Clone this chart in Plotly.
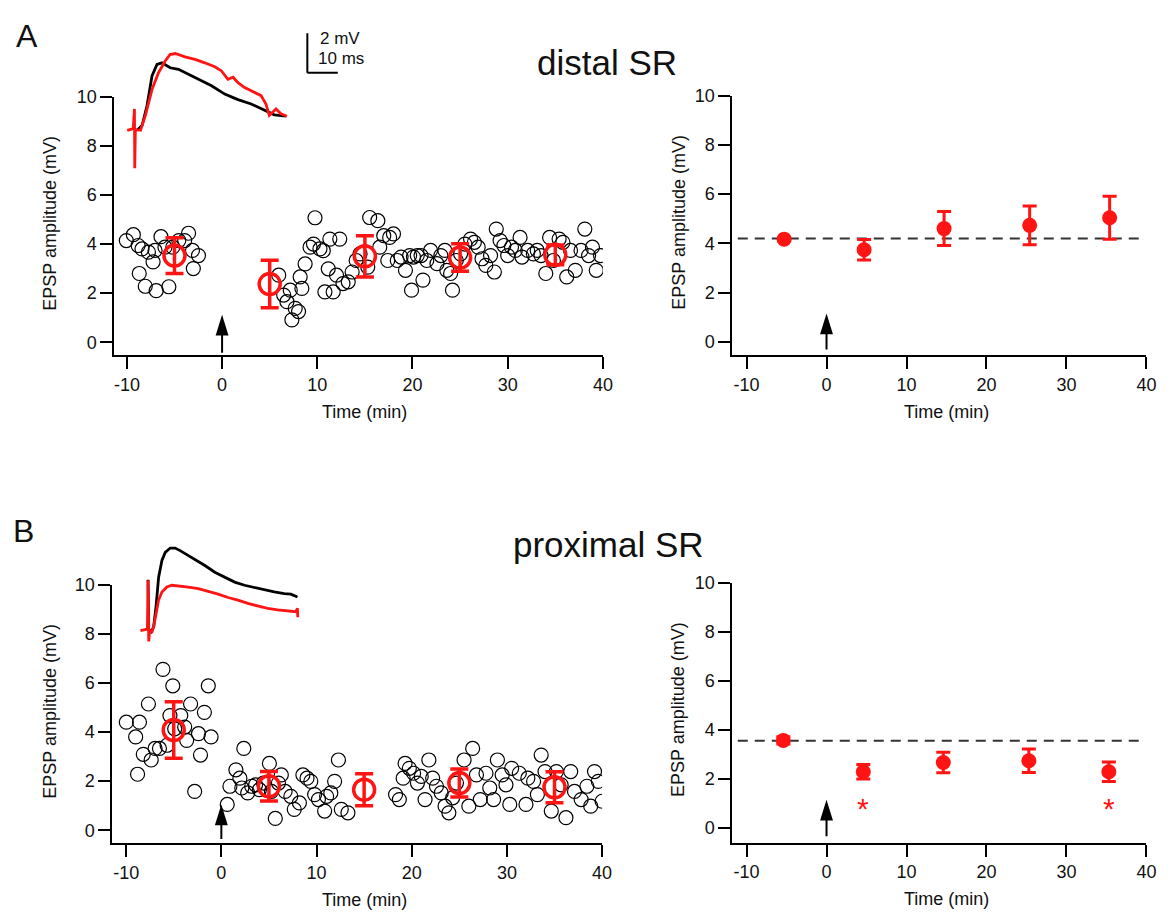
import plotly.graph_objects as go

W, H = 1171, 915
FONT = "Arial, 'Liberation Sans', sans-serif"
RED = "#ff1414"
INK = "#111111"

# ---------------- data: panel A (distal SR) ----------------
A_raw_t = [-10.06, -9.32, -8.82, -8.41, -7.74, -7.04, -7.25, -8.70, -8.07, -6.92, -5.59, -6.42, -6.00, -5.18,
           -4.55, -3.93, -3.52, -3.11, -2.48, -3.02,
           5.95, 6.47, 6.81, 7.16, 7.33, 7.68, 8.03, 8.2, 8.38, 8.72, 9.24, 9.6, 9.76, 10.28, 10.63, 10.8, 11.15,
           11.32, 11.67, 12.02, 12.36, 12.7, 13.25, 13.66, 14.08, 14.49, 15.3, 15.5, 16.36, 16.56, 16.98, 17.4,
           17.6, 18.0, 18.4, 18.8, 19.26, 19.7, 19.9, 20.1, 20.5, 20.9, 21.1, 21.5, 21.9, 22.57, 22.98, 23.4,
           23.6, 24.0, 24.2, 24.6, 25.05, 25.5, 26.1, 26.5, 26.9, 27.3, 27.7, 28.2, 28.6, 28.8, 29.2, 29.6, 30.0,
           30.4, 30.8, 31.3, 31.5, 32.1, 32.7, 33.1, 33.5, 34.0, 34.4, 34.8, 35.4, 35.8, 36.2, 36.6, 37.1, 37.7,
           38.1, 38.5, 38.9, 39.3, 39.75]
A_raw_v = [4.14, 4.38, 3.94, 3.80, 3.67, 3.74, 3.27, 2.80, 2.28, 2.10, 2.26, 4.30, 3.87, 3.87,
           4.14, 4.14, 4.44, 3.74, 3.53, 3.00,
           2.73, 1.92, 1.65, 2.12, 0.91, 1.38, 1.25, 2.66, 2.19, 3.19, 3.87, 4.0, 5.07, 3.8, 3.73, 2.05, 2.99,
           4.2, 2.05, 2.73, 4.2, 2.39, 2.46, 2.86, 3.33, 3.6, 3.06, 5.08, 4.95, 3.87, 4.34, 3.33,
           4.27, 4.41, 3.33, 3.47, 2.93, 3.53, 2.12, 3.47, 3.53, 3.53, 2.53, 3.33, 3.74, 3.2, 3.53, 3.74,
           2.93, 2.8, 2.12, 3.33, 3.6, 4.0, 4.2, 4.07, 3.87, 3.4, 3.13, 3.53, 2.86, 4.61, 4.14, 3.94, 3.53,
           3.87, 3.74, 4.27, 3.47, 3.74, 3.6, 3.74, 3.53, 2.8, 4.27, 3.33, 4.2, 4.07, 2.66, 3.74, 2.93, 3.74,
           4.61, 3.53, 3.87, 2.93, 3.53]
A_bin_t = [-5, 5, 15, 25, 35]
A_bin_v = [3.53, 2.37, 3.50, 3.45, 3.56]
A_bin_err = [0.73, 0.97, 0.84, 0.56, 0.40]

A_sum_t = [-5.3, 4.7, 14.7, 25.4, 35.4]
A_sum_v = [4.17, 3.74, 4.60, 4.73, 5.04]
A_sum_err = [0.07, 0.42, 0.69, 0.79, 0.87]
A_baseline = 4.2

# EPSP example traces (ms, mV) for panel A
A_ctrl_ms = [12.5, 13.03, 14.12, 15.74, 17.37, 19.0, 20.63, 22.26, 23.34, 26.06, 29.32, 32.57, 36.92, 41.26,
             45.6, 49.95, 54.29, 57.55, 61.35]
A_ctrl_mv = [3.95, 4.0, 4.17, 5.17, 6.67, 7.25, 7.33, 7.17, 7.08, 7.0, 6.75, 6.5, 6.17, 5.75,
             5.47, 5.25, 4.92, 4.7, 4.63]
A_post_ms = [9.2, 11.2, 11.6, 11.7, 11.9, 13.6, 15.2, 17.4, 19.5, 21.7, 23.3, 25.0, 28.2, 31.5, 34.7, 38.0,
             40.2, 42.3, 44.0, 45.6, 47.8, 51.0, 53.2, 54.8, 55.9, 58.1, 59.7, 61.7]
A_post_mv = [3.92, 4.0, 5.0, 2.0, 3.95, 3.92, 4.67, 6.0, 6.83, 7.42, 7.75, 7.8, 7.63, 7.5, 7.33, 7.13,
             6.92, 6.5, 6.6, 6.33, 6.08, 5.83, 5.67, 5.25, 4.67, 5.0, 4.75, 4.63]

# ---------------- data: panel B (proximal SR) ----------------
B_raw_t = [-9.98, -9.0, -8.6, -8.8, -8.2, -7.66, -7.37, -6.96, -6.5, -6.13, -5.7, -5.1, -5.4, -4.9, -4.26,
           -3.85, -3.64, -3.23, -2.4, -2.19, -1.78, -1.37, -1.08, -2.8,
           0.62, 0.9, 1.53, 1.95, 2.36, 2.15, 2.77, 3.19, 3.6, 4.0, 4.43, 5.05, 5.26, 5.67, 6.0, 6.3, 6.7, 7.3,
           7.66, 8.2, 8.57, 9.0, 9.4, 9.8, 10.2, 10.85, 11.06, 11.5, 11.9, 12.3, 12.6, 13.3,
           18.3, 18.7, 19.1, 19.3, 19.75, 20.2, 20.6, 21.0, 21.4, 21.8, 22.2, 22.6, 23.1, 23.5, 23.9, 24.3,
           24.7, 25.5, 26.0, 26.4, 26.8, 27.2, 27.8, 28.2, 28.6, 29.0, 29.5, 29.9, 30.3, 30.5, 31.3, 32.0,
           32.2, 32.8, 33.2, 33.6, 34.0, 34.66, 35.2, 35.7, 36.2, 36.7, 37.1, 37.8, 38.4, 38.8, 39.2, 39.6, 40.0]
B_raw_v = [4.4, 3.8, 4.4, 2.28, 3.09, 5.14, 2.86, 3.33, 3.33, 6.55, 3.46, 5.88, 4.67, 4.13, 4.67,
           4.2, 3.66, 5.14, 3.93, 3.06, 4.8, 5.88, 3.8, 1.58,
           1.05, 1.79, 2.46, 2.12, 3.33, 1.72, 1.52, 1.79, 1.85, 1.65, 1.92, 2.72, 1.58, 0.48, 1.92, 2.25, 1.58,
           1.38, 0.85, 1.11, 2.25, 2.12, 1.99, 1.45, 1.25, 0.78, 1.38, 1.52, 1.99, 2.86, 0.85, 0.71,
           1.45, 1.25, 2.12, 2.72, 2.52, 2.32, 1.92, 2.19, 1.25, 2.86, 2.12, 1.79, 1.52, 0.98, 0.71, 1.32,
           1.92, 2.86, 0.98, 3.33, 2.25, 1.25, 2.32, 1.72, 1.25, 2.86, 2.25, 1.85, 1.05, 2.52, 2.32, 1.05,
           2.12, 1.99, 1.45, 3.06, 2.39, 0.78, 2.39, 1.85, 0.51, 2.39, 1.58, 1.25, 1.79, 0.98, 2.39, 1.99, 1.18]
B_bin_t = [-5, 5, 15, 25, 35]
B_bin_v = [4.08, 1.79, 1.65, 1.92, 1.75]
B_bin_err = [1.15, 0.60, 0.65, 0.57, 0.63]

B_sum_t = [-5.4, 4.6, 14.6, 25.3, 35.3]
B_sum_v = [3.57, 2.29, 2.67, 2.74, 2.29]
B_sum_err = [0.15, 0.30, 0.42, 0.48, 0.40]
B_baseline = 3.56
B_sig_t = [4.6, 35.3]      # significant bins (*)

B_ctrl_ms = [16.07, 16.29, 17.16, 17.92, 18.68, 19.54, 20.63, 21.72, 23.34, 24.97, 26.6, 28.77, 31.49, 34.74,
             38.0, 41.26, 44.52, 47.77, 51.03, 54.29, 57.55, 60.8, 62.97, 65.15]
B_ctrl_mv = [6.2, 3.7, 3.57, 3.83, 4.83, 6.33, 7.17, 7.58, 7.8, 7.8, 7.67, 7.47, 7.25, 6.92,
             6.58, 6.33, 6.08, 5.92, 5.8, 5.7, 5.58, 5.5, 5.47, 5.33]
B_post_ms = [13.57, 15.2, 15.85, 16.07, 16.29, 16.61, 17.37, 17.92, 18.68, 19.54, 20.63, 22.26, 23.89, 26.6,
             29.32, 32.57, 35.83, 39.09, 42.35, 45.6, 48.86, 52.12, 55.37, 58.63, 61.89, 64.6, 65.15, 65.25]
B_post_mv = [3.63, 3.67, 3.7, 6.17, 3.08, 3.63, 3.58, 3.83, 4.5, 5.17, 5.58, 5.83, 5.92, 5.88,
             5.83, 5.75, 5.62, 5.47, 5.3, 5.17, 5.0, 4.87, 4.75, 4.67, 4.62, 4.58, 4.75, 4.3]

X_TICKS = [-10, 0, 10, 20, 30, 40]
X_TICK_LABELS = ["-10", "0", "10", "20", "30", "40"]
Y_TICKS = [0, 2, 4, 6, 8, 10]
Y_TICK_LABELS = ["0", "2", "4", "6", "8", "10"]
ARROW_T = 0

# ---------------- layout geometry (pixels) ----------------
PANELS = {
    # name: (x0, x1, y_top, y_bottom, xrange, yrange)
    "AL": (115.3, 608.1, 87.7, 349.3, [-11.32, 40], [-0.54, 10]),
    "AR": (738.7, 1156.3, 86.7, 349.3, [-11.77, 40], [-0.56, 10]),
    "BL": (113.3, 607.3, 581.0, 842.7, [-11.45, 40], [-0.54, 10]),
    "BR": (738.7, 1156.3, 579.3, 841.7, [-11.77, 40], [-0.60, 10]),
}
AXIDS = {"AL": "", "AR": "2", "BL": "3", "BR": "4"}


def xdom(a, b):
    return [a / W, b / W]


def ydom(top, bot):
    return [1 - bot / H, 1 - top / H]


fig = go.Figure()
tickfont = dict(family=FONT, size=18, color=INK)

layout = dict(width=W, height=H, margin=dict(l=0, r=0, t=0, b=0), autosize=False,
              paper_bgcolor="white", plot_bgcolor="rgba(0,0,0,0)", showlegend=False,
              font=dict(family=FONT, color=INK))

for name, (x0, x1, yt, yb, xr, yr) in PANELS.items():
    i = AXIDS[name]
    layout["xaxis" + i] = dict(domain=xdom(x0, x1), range=xr, anchor="y" + i, tickvals=X_TICKS,
                               ticktext=X_TICK_LABELS,
                               showline=True, linecolor="black", linewidth=2, ticks="outside", ticklen=12,
                               tickwidth=2, tickcolor="black", showgrid=False, zeroline=False,
                               tickfont=tickfont, fixedrange=True)
    layout["yaxis" + i] = dict(domain=ydom(yt, yb), range=yr, anchor="x" + i, tickvals=Y_TICKS,
                               ticktext=Y_TICK_LABELS,
                               showline=True, linecolor="black", linewidth=2, ticks="outside", ticklen=12,
                               tickwidth=2, tickcolor="black", showgrid=False, zeroline=False,
                               tickfont=tickfont, fixedrange=True)

# inset axes for EPSP traces
layout["xaxis5"] = dict(domain=xdom(100, 407), range=[0, 100], anchor="y5", visible=False)
layout["yaxis5"] = dict(domain=ydom(20, 200), range=[0, 9], anchor="x5", visible=False)
layout["xaxis6"] = dict(domain=xdom(100, 407), range=[0, 100], anchor="y6", visible=False)
layout["yaxis6"] = dict(domain=ydom(520, 700), range=[0, 9], anchor="x6", visible=False)


def raw_scatter(t, v, i):
    fig.add_trace(go.Scatter(x=t, y=v, mode="markers", xaxis="x" + i, yaxis="y" + i,
                             marker=dict(symbol="circle-open", size=14, color="black",
                                         line=dict(width=1.2, color="black"))))


def bin_scatter(t, v, e, i):
    fig.add_trace(go.Scatter(x=t, y=v, mode="markers", xaxis="x" + i, yaxis="y" + i,
                             error_y=dict(type="data", array=e, color=RED, thickness=3.5, width=9),
                             marker=dict(symbol="circle-open", size=21, color=RED,
                                         line=dict(width=3.5, color=RED))))


def summary(t, v, e, base, i):
    fig.add_trace(go.Scatter(x=[-11.1, 39.1], y=[base, base], mode="lines", xaxis="x" + i, yaxis="y" + i,
                             line=dict(color="#333333", width=2, dash="10px,7px")))
    fig.add_trace(go.Scatter(x=t, y=v, mode="markers", xaxis="x" + i, yaxis="y" + i,
                             error_y=dict(type="data", array=e, color=RED, thickness=3, width=7),
                             marker=dict(symbol="circle", size=15, color=RED)))


raw_scatter(A_raw_t, A_raw_v, "")
bin_scatter(A_bin_t, A_bin_v, A_bin_err, "")
summary(A_sum_t, A_sum_v, A_sum_err, A_baseline, "2")
raw_scatter(B_raw_t, B_raw_v, "3")
bin_scatter(B_bin_t, B_bin_v, B_bin_err, "3")
summary(B_sum_t, B_sum_v, B_sum_err, B_baseline, "4")

# example traces
for ms, mv, col, ax in [(A_ctrl_ms, A_ctrl_mv, "black", "5"), (A_post_ms, A_post_mv, RED, "5"),
                        (B_ctrl_ms, B_ctrl_mv, "black", "6"), (B_post_ms, B_post_mv, RED, "6")]:
    fig.add_trace(go.Scatter(x=ms, y=mv, mode="lines", xaxis="x" + ax, yaxis="y" + ax,
                             line=dict(color=col, width=2.8)))

shapes = []
annotations = []


def label(text, x, y, size, xref="paper", yref="paper", **kw):
    d = dict(xref=xref, yref=yref, x=x, y=y, text=text, showarrow=False, xanchor="center",
             yanchor="middle", font=dict(size=size, family=FONT, color=kw.pop("color", INK)))
    d.update(kw)
    annotations.append(d)


# scale bar (2 mV, 10 ms) in inset A
SB_X, SB_Y, SB_MS, SB_MV = 68.4, 6.83, 10, 2
shapes.append(dict(type="line", xref="x5", yref="y5", x0=SB_X, x1=SB_X, y0=SB_Y, y1=SB_Y + SB_MV,
                   line=dict(color="black", width=2)))
shapes.append(dict(type="line", xref="x5", yref="y5", x0=SB_X, x1=SB_X + SB_MS, y0=SB_Y, y1=SB_Y,
                   line=dict(color="black", width=2)))
label("2 mV", SB_X + 3.4, SB_Y + 1.75, 17, xref="x5", yref="y5", xanchor="left")
label("10 ms", SB_X + 3.0, SB_Y + 0.7, 17, xref="x5", yref="y5", xanchor="left")

# stimulation arrows
ARROWS = {"AL": (1.12, -0.43), "AR": (1.15, -0.32), "BL": (1.05, -0.36), "BR": (1.15, -0.34)}
for name, (tip, base) in ARROWS.items():
    x0, x1, yt, yb, xr, yr = PANELS[name]
    i = AXIDS[name]
    pxx = (x1 - x0) / (xr[1] - xr[0])
    pxy = (yb - yt) / (yr[1] - yr[0])
    hh = 21 / pxy
    hw = 6.5 / pxx
    shapes.append(dict(type="path", xref="x" + i, yref="y" + i,
                       path=f"M {ARROW_T - hw},{tip - hh} L {ARROW_T},{tip} L {ARROW_T + hw},{tip - hh} Z",
                       fillcolor="black", line=dict(width=0)))
    shapes.append(dict(type="line", xref="x" + i, yref="y" + i, x0=ARROW_T, x1=ARROW_T, y0=base,
                       y1=tip - hh * 0.8, line=dict(color="black", width=2)))

# significance asterisks
for t in B_sig_t:
    label("*", t, 0.8, 30, xref="x4", yref="y4", color=RED)

# axis titles
for name, (x0, x1, yt, yb, xr, yr) in PANELS.items():
    i = AXIDS[name]
    ytx = 51 if name in ("AL", "BL") else 684
    label("EPSP amplitude (mV)", ytx / W, 1 - ((yt + yb) / 2 - 3) / H, 18, textangle=-90)
    label("Time (min)", 15, 1 - (yb + 57.5) / H, 18, xref="x" + i)

# panel titles and letters
label("distal SR", 612 / W, 1 - 53 / H, 35)
label("proximal SR", 614 / W, 1 - 540 / H, 35)
label("A", 27 / W, 1 - 26 / H, 32)
label("B", 24 / W, 1 - 527 / H, 32)

layout["shapes"] = shapes
layout["annotations"] = annotations
fig.update_layout(**layout)
fig.write_html("out.html")
